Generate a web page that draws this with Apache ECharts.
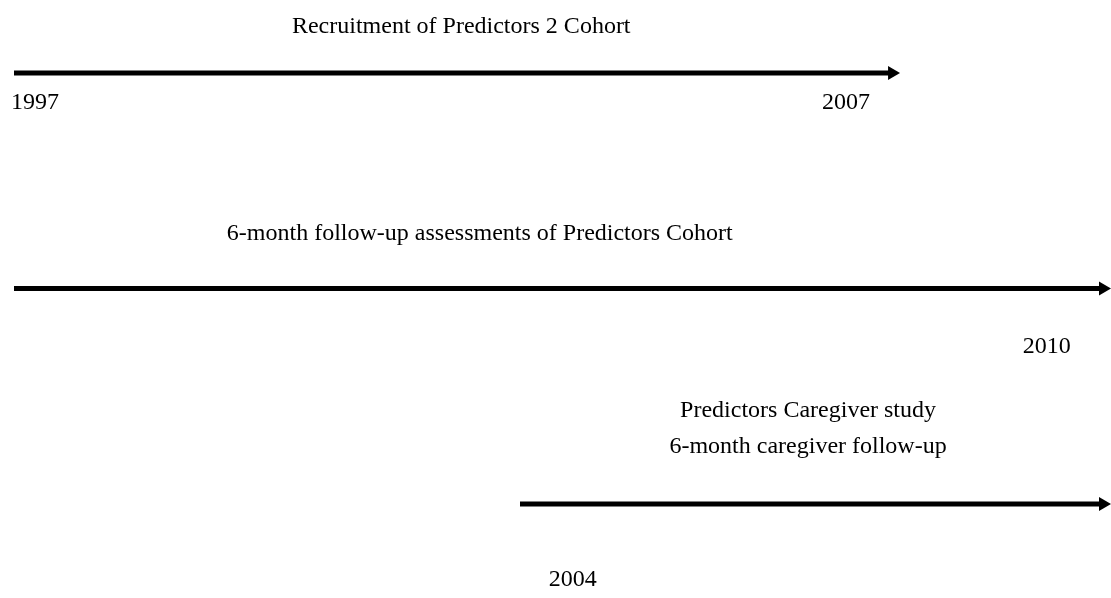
<!DOCTYPE html>
<html><head><meta charset="utf-8">
<script src="https://cdn.jsdelivr.net/npm/echarts@6/dist/echarts.min.js"></script>
<style>html,body{margin:0;padding:0;background:#fff}#c{width:1111px;height:598px}</style>
</head><body><div id="c"></div>
<script>
// Timeline bars: start year, end year, row
const barNames = ['Recruitment', 'Follow-up', 'Caregiver'];
const barStart = [1997, 1997, 2003];
const barEnd = [2007.5, 2010, 2010];
const barRow = [1, 2, 3];

// Titles above each bar (lines), centred at a year position
const titleLines = [
  ['Recruitment of Predictors 2 Cohort'],
  ['6-month follow-up assessments of Predictors Cohort'],
  ['Predictors Caregiver study', '6-month caregiver follow-up']
];
const titleYear = [2002.3, 2002.52, 2006.41];

// Year labels below bars
const yearText = ['1997', '2007', '2010', '2004'];
const yearPos = [1997.25, 2006.86, 2009.24, 2003.62];
const yearRow = [1, 1, 2, 3];

// styling (pixel offsets)
const titleOffset = [[-46], [-55], [-93, -57]];
const yearOffset = {1: 30, 2: 58, 3: 76};
const FONT = '"Liberation Serif", "Times New Roman", serif';
const FS = 24;

const chart = echarts.init(document.getElementById('c'), null, {renderer: 'canvas'});

const barData = barStart.map((s, i) => [s, barEnd[i], barRow[i]]);
const titleData = titleYear.map((y, i) => [y, barRow[i], i]);
const yearData = yearPos.map((y, i) => [y, yearRow[i], i]);

chart.setOption({
  animation: false,
  backgroundColor: '#fff',
  grid: {left: 14, right: 0, top: 73, bottom: 94, containLabel: false},
  xAxis: {type: 'value', min: 1997, max: 2010, show: false},
  yAxis: {type: 'value', min: 1, max: 3, inverse: true, show: false},
  series: [
    {
      type: 'custom', clip: false, data: barData,
      encode: {x: [0, 1], y: 2},
      renderItem: function (params, api) {
        const p0 = api.coord([api.value(0), api.value(2)]);
        const p1 = api.coord([api.value(1), api.value(2)]);
        const L = 12, H = 7;
        return {
          type: 'group',
          children: [
            {type: 'line', shape: {x1: Math.round(p0[0]), y1: p0[1], x2: p1[0] - L + 1, y2: p1[1]},
             style: {stroke: '#000', lineWidth: 5, lineCap: 'butt'}},
            {type: 'polygon', shape: {points: [[p1[0], p1[1]], [p1[0] - L, p1[1] - H], [p1[0] - L, p1[1] + H]]},
             style: {fill: '#000'}}
          ]
        };
      }
    },
    {
      type: 'custom', clip: false, data: titleData,
      encode: {x: 0, y: 1},
      renderItem: function (params, api) {
        const idx = api.value(2);
        const p = api.coord([api.value(0), api.value(1)]);
        const lines = titleLines[idx];
        return {
          type: 'group',
          children: lines.map((t, k) => ({
            type: 'text',
            style: {text: t, x: p[0], y: p[1] + titleOffset[idx][k], align: 'center', verticalAlign: 'middle',
                    font: FS + 'px ' + FONT, fill: '#000'}
          }))
        };
      }
    },
    {
      type: 'custom', clip: false, data: yearData,
      encode: {x: 0, y: 1},
      renderItem: function (params, api) {
        const idx = api.value(2);
        const p = api.coord([api.value(0), api.value(1)]);
        return {
          type: 'text',
          style: {text: yearText[idx], x: p[0], y: p[1] + yearOffset[api.value(1)], align: 'center', verticalAlign: 'middle',
                  font: FS + 'px ' + FONT, fill: '#000'}
        };
      }
    }
  ]
});
</script>
</body></html>
